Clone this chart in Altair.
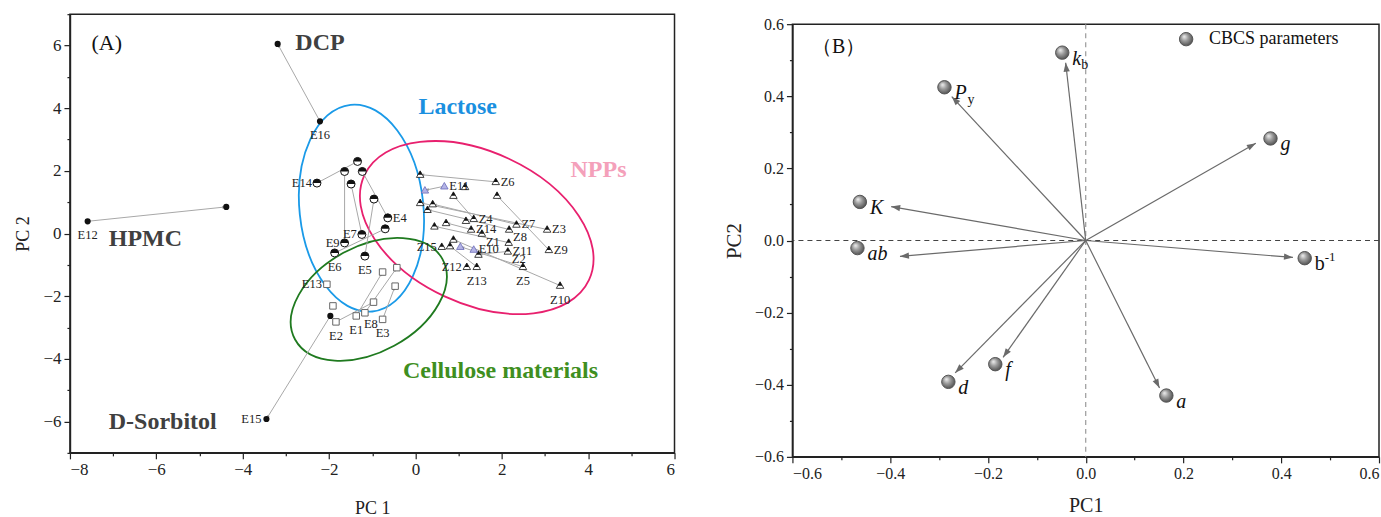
import altair as alt
import pandas as pd

FONT = "Liberation Serif"
MINUS = "\u2212"

# ---------------- Panel A : PCA scores ----------------
exc_id = ["DCP", "E16", "E12", "HPMC", "E15", "S0"]
exc_x = [-3.19, -2.21, -7.59, -4.38, -3.45, -1.97]
exc_y = [6.05, 3.58, 0.39, 0.85, -5.92, -2.63]

lac_id = ["L1", "L2", "L3", "E14", "L4", "L5", "E4", "L6", "E7", "E9", "E6", "E5"]
lac_x = [-1.34, -1.64, -1.23, -2.28, -1.49, -0.96, -0.64, -0.70, -1.24, -1.64, -1.87, -1.17]
lac_y = [2.30, 1.98, 1.98, 1.61, 1.58, 1.10, 0.50, 0.15, -0.03, -0.30, -0.62, -0.72]

cel_id = ["C1", "C2", "E13", "C3", "C4", "C5", "E8", "E1", "E3", "E2"]
cel_x = [-0.43, -0.76, -2.05, -0.47, -0.97, -1.91, -1.17, -1.37, -0.76, -1.84]
cel_y = [-1.09, -1.23, -1.62, -1.68, -2.19, -2.31, -2.53, -2.63, -2.74, -2.82]

npp_id = ["N1", "Z6", "N2", "N3", "N4", "N5", "N6", "N7", "Z4", "N8", "N9", "N10", "Z14", "Z1",
          "Z8", "Z7", "Z3", "Z11", "Z2", "Z9", "Z5", "Z10", "N11", "Z15", "N12", "N13", "Z12", "Z13"]
npp_x = [0.11, 1.86, 1.15, 0.88, 1.89, 0.11, 0.40, 0.28, 1.35, 1.17, 0.44, 0.71, 1.29, 1.54,
         2.17, 2.34, 3.05, 2.16, 2.14, 3.09, 2.49, 3.35, 0.88, 0.61, 0.80, 1.46, 1.19, 1.42]
npp_y = [1.88, 1.65, 1.49, 1.21, 1.21, 0.98, 0.94, 0.76, 0.47, 0.41, 0.23, 0.34, 0.13, 0.00,
         0.13, 0.29, 0.13, -0.29, -0.57, -0.52, -1.06, -1.66, -0.19, -0.42, -0.40, -0.67, -1.06, -1.06]

blu_id = ["B1", "E11", "B2", "E10"]
blu_x = [0.22, 0.67, 1.04, 1.35]
blu_y = [1.38, 1.51, -0.42, -0.51]

lab_right = ["E4", "Z6", "Z4", "Z14", "Z7", "Z3", "Z9", "E11", "E10"]
lab_below_right = ["Z1", "Z2", "Z8", "Z11"]
lab_left = ["E14", "E7", "E9", "E13", "E15", "Z15", "Z12"]
lab_below = ["E16", "E12", "E6", "E5", "E1", "E3", "E2", "Z5", "Z10", "Z13"]
lab_below_shift = ["E8"]

arr_from = ["E16", "E12", "S0", "Z6", "E14", "E9", "E7", "E4", "E5", "E6", "E1", "E3", "E8", "E2",
            "Z7", "Z3", "Z8", "Z4", "Z9", "Z10", "Z5", "Z13", "Z11", "Z14", "E11", "Z2"]
arr_to = ["DCP", "HPMC", "E15", "N1", "L1", "L2", "L4", "L3", "L5", "L6", "C2", "C3", "C1", "C4",
          "N6", "N5", "N7", "N3", "N4", "N11", "B2", "N12", "N9", "N10", "B1", "N13"]

ell_name = ["Lactose", "NPPs", "Cellulose materials"]
ell_cx = [-1.25, 1.42, -1.08]
ell_cy = [0.81, 0.19, -2.10]

grp_text = ["Lactose", "NPPs", "Cellulose materials"]
grp_x = [0.98, 4.24, 1.97]
grp_y = [4.04, 2.04, -4.40]

exc_text = ["DCP", "HPMC", "D-Sorbitol"]
exc_tx = [-2.78, -7.10, -7.10]
exc_ty = [6.09, -0.17, -6.03]

# ---------------- Panel B : loadings ----------------
par_main = ["k", "P", "g", "K", "ab", "b", "f", "d", "a"]
par_sub = ["b", "y", "", "", "", "", "", "", ""]
par_sup = ["", "", "", "", "", "-1", "", "", ""]
par_italic = [True, True, True, True, True, False, True, True, True]
par_x = [-0.048, -0.289, 0.378, -0.462, -0.467, 0.448, -0.185, -0.281, 0.165]
par_y = [0.521, 0.425, 0.283, 0.107, -0.021, -0.049, -0.343, -0.392, -0.430]
tip_x = [-0.041, -0.274, 0.348, -0.398, -0.380, 0.424, -0.169, -0.267, 0.151]
tip_y = [0.493, 0.399, 0.270, 0.094, -0.044, -0.047, -0.324, -0.367, -0.409]

# ---------------- tables ----------------
def grp_df(ids, xs, ys, g):
    return pd.DataFrame({"id": ids, "x": xs, "y": ys, "grp": g})

pts = pd.concat([
    grp_df(exc_id, exc_x, exc_y, "exc"),
    grp_df(lac_id, lac_x, lac_y, "lac"),
    grp_df(cel_id, cel_x, cel_y, "cel"),
    grp_df(npp_id, npp_x, npp_y, "npp"),
    grp_df(blu_id, blu_x, blu_y, "blu"),
], ignore_index=True)
pts["pos"] = ""
pts.loc[pts.id.isin(lab_right), "pos"] = "r"
pts.loc[pts.id.isin(lab_below_right), "pos"] = "br"
pts.loc[pts.id.isin(lab_left), "pos"] = "l"
pts.loc[pts.id.isin(lab_below), "pos"] = "b"
pts.loc[pts.id.isin(lab_below_shift), "pos"] = "b2"

coord = pts.set_index("id")
arrows = pd.DataFrame({"f": arr_from, "t": arr_to})
arrows["x"] = arrows.f.map(coord.x)
arrows["y"] = arrows.f.map(coord.y)
arrows["x2"] = arrows.t.map(coord.x)
arrows["y2"] = arrows.t.map(coord.y)

ells = pd.DataFrame({"name": ell_name, "x": ell_cx, "y": ell_cy})
grp_lab = pd.DataFrame({"t": grp_text, "x": grp_x, "y": grp_y})
exc_lab = pd.DataFrame({"t": exc_text, "x": exc_tx, "y": exc_ty})

par = pd.DataFrame({"main": par_main, "sub": par_sub, "sup": par_sup, "it": par_italic,
                    "x": par_x, "y": par_y, "tx": tip_x, "ty": tip_y,
                    "kind": "CBCS parameters"})
zero = pd.DataFrame({"z": [0.0]})

# ---------------- geometry / style ----------------
W_A, H_A = 605, 439
W_B, H_B = 587, 433
kxA, kyA = W_A / 14.0, H_A / 14.0
kxB, kyB = W_B / 1.2, H_B / 1.2

HALF = "M -1 0 A 1 1 0 0 1 1 0 Z"
TRI = "M 0 -1 L 1 0.75 L -1 0.75 Z"
TRI_TOP = "M 0 -1 L 0.6 0.05 L -0.6 0.05 Z"
HEAD = "M 0 0 L -0.7 2 L 0.7 2 Z"


def ell_path(r):
    return f"M -1 0 A 1 {r} 0 1 0 1 0 A 1 {r} 0 1 0 -1 0 Z"


def axis_common(test, **kw):
    base = dict(grid=False, labelFont=FONT, titleFont=FONT,
                tickSize={"condition": {"test": test, "value": 6}, "value": 3},
                domainColor="#222", tickColor="#222", labelColor="#222", titleColor="#222",
                titleFontWeight="normal", domainWidth=1.5, tickWidth=1.2, labelPadding=3)
    base.update(kw)
    return alt.Axis(**base)


testA = "datum.value % 2 === 0"
testB = "abs(round(datum.value*10)) % 2 === 0"
axA_x = axis_common(testA, values=list(range(-8, 7)), labelFontSize=17, titleFontSize=18, titlePadding=22,
                    labelExpr=f"{testA} ? replace(format(datum.value,'d'),'-','{MINUS}') : ''")
axA_y = axis_common(testA, values=list(range(-7, 8)), labelFontSize=17, titleFontSize=18, titlePadding=10,
                    labelExpr=f"{testA} ? replace(format(datum.value,'d'),'-','{MINUS}') : ''")

b_vals = [i / 10 for i in range(-6, 7)]
axB_x = axis_common(testB, values=b_vals, labelFontSize=16, titleFontSize=20, titlePadding=14,
                    labelExpr=f"{testB} ? replace(format(datum.value,'.1f'),'-','{MINUS}') : ''")
axB_y = axis_common(testB, values=b_vals, labelFontSize=16, titleFontSize=21, titlePadding=10,
                    labelExpr=f"{testB} ? replace(format(datum.value,'.1f'),'-','{MINUS}') : ''")


def XA(f="x"):
    return alt.X(f"{f}:Q", scale=alt.Scale(domain=[-8, 6], nice=False, zero=False), axis=axA_x, title="PC 1")


def YA(f="y"):
    return alt.Y(f"{f}:Q", scale=alt.Scale(domain=[-7, 7], nice=False, zero=False), axis=axA_y, title="PC 2")


def XB(f="x"):
    return alt.X(f"{f}:Q", scale=alt.Scale(domain=[-0.6, 0.6], nice=False, zero=False), axis=axB_x, title="PC1")


def YB(f="y"):
    return alt.Y(f"{f}:Q", scale=alt.Scale(domain=[-0.6, 0.6], nice=False, zero=False), axis=axB_y, title="PC2")


# ---------------- Panel A layers ----------------
base_pts = alt.Chart(pts)
A_layers = []

ell_style = [("Lactose", "#1a9ae8", 104, 62, 84),
             ("NPPs", "#e8206e", 124, 76, 25),
             ("Cellulose materials", "#1f7a1f", 84, 53, 331.4)]
for nm, col, a, b, ang in ell_style:
    A_layers.append(
        alt.Chart(ells).transform_filter(alt.datum.name == nm).mark_point(
            shape=ell_path(round(b / a, 3)), filled=False, stroke=col, strokeWidth=1.8,
            size=(2 * a) ** 2, angle=ang, opacity=1
        ).encode(x=XA(), y=YA())
    )

A_layers.append(alt.Chart(arrows).mark_rule(color="#a8a8a8", strokeWidth=1).encode(
    x=XA(), y=YA(), x2="x2:Q", y2="y2:Q"))
A_layers.append(alt.Chart(arrows).transform_calculate(
    ang=f"(atan2((datum.x2-datum.x)*{kxA}, (datum.y2-datum.y)*{kyA})*180/PI + 360) % 360"
).mark_point(shape=HEAD, filled=True, color="#999999", size=16, opacity=1).encode(
    x=XA("x2"), y=YA("y2"), angle=alt.Angle("ang:Q", scale=None)))

A_layers.append(base_pts.transform_filter(alt.datum.grp == "exc").mark_point(
    shape="circle", filled=True, color="#111", size=38, opacity=1).encode(x=XA(), y=YA()))
A_layers.append(base_pts.transform_filter(alt.datum.grp == "lac").mark_point(
    shape="circle", filled=True, fill="white", stroke="#111", strokeWidth=1, size=64, opacity=1
).encode(x=XA(), y=YA()))
A_layers.append(base_pts.transform_filter(alt.datum.grp == "lac").mark_point(
    shape=HALF, filled=True, color="#111", size=64, opacity=1).encode(x=XA(), y=YA()))
A_layers.append(base_pts.transform_filter(alt.datum.grp == "cel").mark_point(
    shape="square", filled=True, fill="white", stroke="#666", strokeWidth=1, size=42, opacity=1
).encode(x=XA(), y=YA()))
A_layers.append(base_pts.transform_filter(alt.datum.grp == "npp").mark_point(
    shape=TRI, filled=True, fill="white", stroke="#111", strokeWidth=0.8, size=56, opacity=1
).encode(x=XA(), y=YA()))
A_layers.append(base_pts.transform_filter(alt.datum.grp == "npp").mark_point(
    shape=TRI_TOP, filled=True, color="#111", size=56, opacity=1).encode(x=XA(), y=YA()))
A_layers.append(base_pts.transform_filter(alt.datum.grp == "blu").mark_point(
    shape=TRI, filled=True, fill="#b4b4e6", stroke="#6a6ab8", strokeWidth=0.8, size=56, opacity=1
).encode(x=XA(), y=YA()))

lab_style = [("r", "left", 5, 0), ("br", "left", 4, 8), ("l", "right", -5, 0),
             ("b", "center", 0, 14), ("b2", "center", 6, 11)]
for code, al, dx, dy in lab_style:
    A_layers.append(base_pts.transform_filter(alt.datum.pos == code).mark_text(
        font=FONT, fontSize=12.5, color="#222", align=al, baseline="middle", dx=dx, dy=dy
    ).encode(x=XA(), y=YA(), text="id:N"))

grp_cols = ["#1a90e0", "#f4a0ba", "#3f8f1f"]
for t, c in zip(grp_text, grp_cols):
    A_layers.append(alt.Chart(grp_lab).transform_filter(alt.datum.t == t).mark_text(
        font=FONT, fontSize=24, fontWeight="bold", color=c, align="center", baseline="middle"
    ).encode(x=XA(), y=YA(), text="t:N"))
A_layers.append(alt.Chart(exc_lab).mark_text(
    font=FONT, fontSize=24, fontWeight="bold", color="#404040", align="left", baseline="middle"
).encode(x=XA(), y=YA(), text="t:N"))
A_layers.append(alt.Chart(pd.DataFrame({"t": ["(A)"], "x": [-7.5], "y": [6.08]})).mark_text(
    font=FONT, fontSize=22, color="#111", align="left", baseline="middle"
).encode(x=XA(), y=YA(), text="t:N"))

panelA = alt.layer(*A_layers).properties(width=W_A, height=H_A)

# ---------------- Panel B layers ----------------
B_layers = []
B_layers.append(alt.Chart(zero).mark_rule(strokeDash=[5, 4], color="#9a9a9a", strokeWidth=1.2).encode(x=XB("z")))
B_layers.append(alt.Chart(zero).mark_rule(strokeDash=[5, 4], color="#444", strokeWidth=1.2).encode(y=YB("z")))

pb = alt.Chart(par)
B_layers.append(pb.transform_calculate(x0="0", y0="0").mark_rule(color="#6a6a6a", strokeWidth=1.2).encode(
    x=XB("x0"), y=YB("y0"), x2="tx:Q", y2="ty:Q"))
B_layers.append(pb.transform_calculate(
    ang=f"(atan2(datum.tx*{kxB}, datum.ty*{kyB})*180/PI + 360) % 360"
).mark_point(shape=HEAD, filled=True, color="#6a6a6a", size=81, opacity=1).encode(
    x=XB("tx"), y=YB("ty"), angle=alt.Angle("ang:Q", scale=None)))

sphere = alt.Gradient(
    gradient="radial",
    stops=[alt.GradientStop(offset=0, color="#f2f2f2"),
           alt.GradientStop(offset=0.45, color="#9c9c9c"),
           alt.GradientStop(offset=1, color="#4a4a4a")],
    x1=0.35, y1=0.3, r1=0, x2=0.45, y2=0.45, r2=0.6)

B_layers.append(pb.mark_point(shape="circle", filled=True, fill=sphere, size=180, strokeWidth=1,
                              opacity=1).encode(
    x=XB(), y=YB(),
    stroke=alt.Stroke("kind:N", scale=alt.Scale(domain=["CBCS parameters"], range=["#555555"]),
                      legend=alt.Legend(orient="none", legendX=1108, legendY=16, title=None,
                                        labelFont=FONT, labelFontSize=18, labelColor="#111",
                                        symbolType="circle", symbolSize=180, symbolFillColor="#8c8c8c",
                                        symbolStrokeWidth=1, labelOffset=14, padding=0))))

B_layers.append(pb.transform_filter(alt.datum.it == True).mark_text(
    font=FONT, fontSize=20, fontStyle="italic", color="#111", align="left", baseline="middle", dx=10, dy=6
).encode(x=XB(), y=YB(), text="main:N"))
B_layers.append(pb.transform_filter(alt.datum.it == False).mark_text(
    font=FONT, fontSize=20, color="#111", align="left", baseline="middle", dx=10, dy=6
).encode(x=XB(), y=YB(), text="main:N"))
B_layers.append(pb.transform_filter(alt.datum.main == "k").mark_text(
    font=FONT, fontSize=14, color="#111", align="left", baseline="middle", dx=19, dy=12
).encode(x=XB(), y=YB(), text="sub:N"))
B_layers.append(pb.transform_filter(alt.datum.main == "P").mark_text(
    font=FONT, fontSize=14, color="#111", align="left", baseline="middle", dx=23, dy=13
).encode(x=XB(), y=YB(), text="sub:N"))
B_layers.append(pb.transform_filter(alt.datum.sup != "").mark_text(
    font=FONT, fontSize=13, color="#111", align="left", baseline="middle", dx=20, dy=-1
).encode(x=XB(), y=YB(), text="sup:N"))
B_layers.append(alt.Chart(pd.DataFrame({"t": ["（B）"], "x": [-0.56], "y": [0.538]})).mark_text(
    font=FONT, fontSize=20, color="#111", align="left", baseline="middle"
).encode(x=XB(), y=YB(), text="t:N"))

panelB = alt.layer(*B_layers).properties(width=W_B, height=H_B)

spacer = alt.Chart(zero).mark_point(opacity=0, size=0).encode(
    x=alt.value(0), y=alt.value(0)
).properties(width=W_B, height=1, view=alt.ViewBackground(strokeOpacity=0))

chart = alt.hconcat(panelA, alt.vconcat(spacer, panelB, spacing=0), spacing=46).properties(
    padding={"left": 14, "top": 12, "right": 0, "bottom": 0},
    background="white",
).configure_view(stroke="#222", strokeWidth=1.5)

chart.save("out.html", embed_options={"renderer": "svg", "actions": False})
